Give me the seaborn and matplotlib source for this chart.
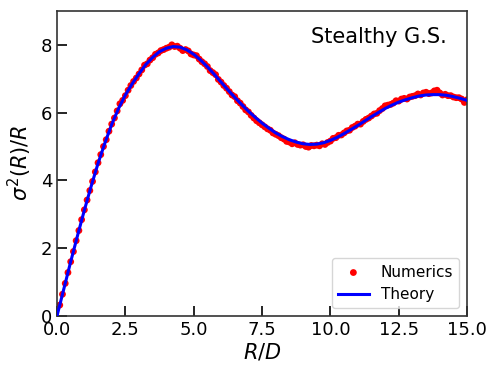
import numpy as np
import pandas as pd
import matplotlib
matplotlib.use("Agg")
import matplotlib.pyplot as plt
import seaborn as sns

# theory curve, sampled every 0.25 in R/D
theory_x = np.round(np.arange(0, 61) * 0.25, 2)
theory_y = [0.00, 0.80, 1.60, 2.37, 3.12, 3.83, 4.50, 5.10, 5.65, 6.12,
            6.52, 6.85, 7.15, 7.42, 7.63, 7.80, 7.90, 7.95, 7.93, 7.85,
            7.72, 7.55, 7.35, 7.13, 6.90, 6.67, 6.45, 6.24, 6.04, 5.86,
            5.69, 5.54, 5.40, 5.29, 5.20, 5.13, 5.08, 5.06, 5.07, 5.11,
            5.18, 5.27, 5.38, 5.50, 5.62, 5.75, 5.88, 6.00, 6.12, 6.22,
            6.31, 6.38, 6.44, 6.49, 6.52, 6.53, 6.53, 6.51, 6.47, 6.42,
            6.36]

# numerics, every 0.1 in R/D
num_x = np.round(np.arange(1, 151) * 0.1, 1)
num_y = [0.32, 0.64, 0.96, 1.28, 1.60, 1.90, 2.22, 2.52, 2.84, 3.13,
         3.42, 3.70, 3.97, 4.25, 4.52, 4.76, 5.00, 5.20, 5.45, 5.66,
         5.84, 6.05, 6.26, 6.36, 6.50, 6.66, 6.80, 6.92, 7.02, 7.14,
         7.26, 7.40, 7.44, 7.55, 7.62, 7.72, 7.76, 7.83, 7.86, 7.90,
         7.93, 8.00, 7.95, 7.96, 7.90, 7.83, 7.86, 7.82, 7.73, 7.70,
         7.68, 7.58, 7.50, 7.44, 7.36, 7.24, 7.18, 7.12, 6.98, 6.90,
         6.80, 6.72, 6.62, 6.52, 6.47, 6.35, 6.28, 6.18, 6.08, 6.02,
         5.92, 5.84, 5.76, 5.70, 5.64, 5.58, 5.52, 5.48, 5.40, 5.36,
         5.32, 5.26, 5.22, 5.15, 5.13, 5.08, 5.11, 5.06, 5.04, 5.05,
         5.00, 4.98, 5.03, 5.02, 5.04, 5.02, 5.08, 5.06, 5.12, 5.16,
         5.24, 5.26, 5.33, 5.34, 5.40, 5.46, 5.48, 5.56, 5.60, 5.66,
         5.66, 5.74, 5.80, 5.84, 5.90, 5.96, 5.98, 6.06, 6.12, 6.20,
         6.22, 6.24, 6.28, 6.35, 6.34, 6.40, 6.42, 6.40, 6.46, 6.48,
         6.50, 6.55, 6.52, 6.58, 6.60, 6.56, 6.58, 6.64, 6.66, 6.58,
         6.52, 6.54, 6.50, 6.50, 6.46, 6.44, 6.44, 6.40, 6.30, 6.38]

num_df = pd.DataFrame({"R": num_x, "sigma": num_y})
th_df = pd.DataFrame({"R": theory_x, "sigma": theory_y})

fig = plt.figure(figsize=(4.98, 3.77), dpi=100)
ax = fig.add_axes([0.1145, 0.162, 0.8235, 0.809])

sns.scatterplot(data=num_df, x="R", y="sigma", ax=ax, color="red", s=24,
                edgecolor="none", label="Numerics", zorder=2)
sns.lineplot(data=th_df, x="R", y="sigma", ax=ax, color="blue", lw=2.2,
             label="Theory", zorder=3)

ax.set_xlim(0, 15)
ax.set_ylim(0, 9)
ax.set_xticks([0, 2.5, 5, 7.5, 10, 12.5, 15])
ax.set_xticklabels(["0.0", "2.5", "5.0", "7.5", "10.0", "12.5", "15.0"])
ax.set_yticks([0, 2, 4, 6, 8])
ax.tick_params(direction="in", length=7, width=1.2, labelsize=13)
ax.set_xlabel(r"$R/D$", fontsize=15, labelpad=2)
ax.set_ylabel(r"$\sigma^2(R)/R$", fontsize=15, labelpad=5)
for sp in ax.spines.values():
    sp.set_color("#333333")
    sp.set_linewidth(1.2)

ax.text(0.95, 0.915, "Stealthy G.S.", transform=ax.transAxes,
        ha="right", va="center", fontsize=15)
ax.legend(loc="lower right", fontsize=11, markerscale=1.0)

fig.savefig("out.png", dpi=100)
